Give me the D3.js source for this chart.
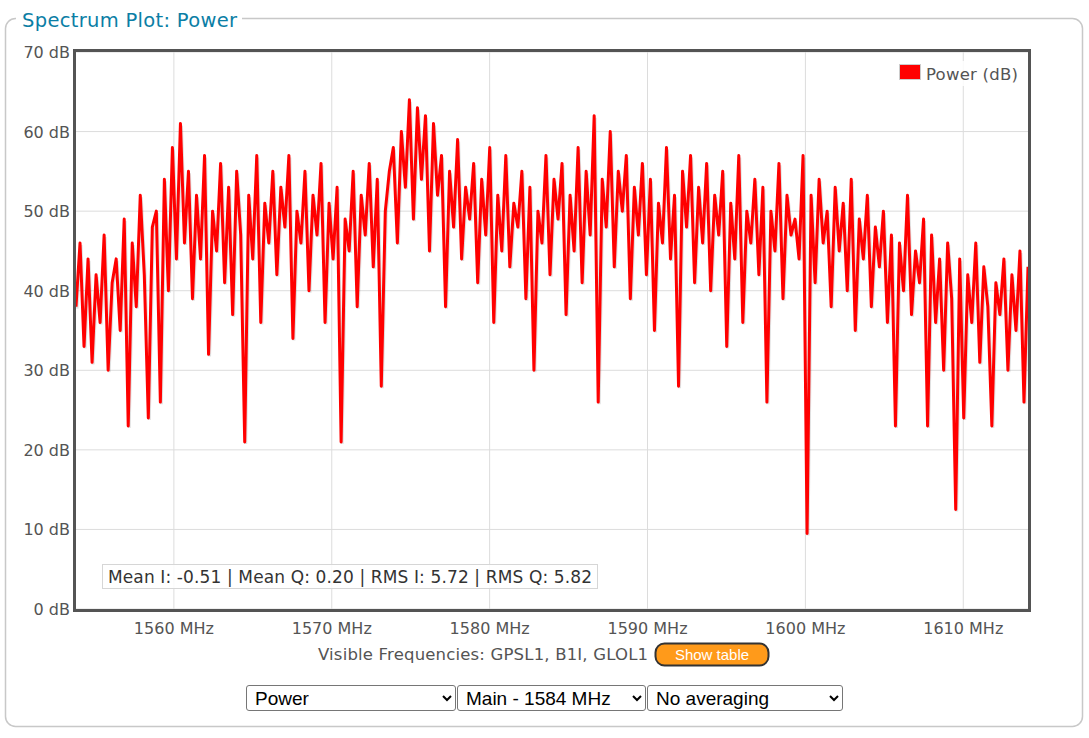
<!DOCTYPE html>
<html><head><meta charset="utf-8">
<script src="https://cdn.jsdelivr.net/npm/d3@7"></script>
<style>
body{margin:0;background:#fff;font-family:"DejaVu Sans",sans-serif;}
#wrap{position:relative;width:1089px;height:738px;}
select{position:absolute;top:685px;height:26px;font-family:"Liberation Sans",Arial,sans-serif;font-size:19px;border:1px solid #767676;border-radius:3px;background:#fff;color:#000;padding:0 4px;}
</style></head><body>
<div id="wrap">
<svg width="1089" height="738"></svg>
<select style="left:246px;width:210px"><option>Power</option></select>
<select style="left:457px;width:189px"><option>Main - 1584 MHz</option></select>
<select style="left:647px;width:196px"><option>No averaging</option></select>
</div>
<script>
const power = [
38,46,33,44,31,42,36,47,30,41,
44,35,49,23,46,38,52,42,24,48,
50,26,54,40,58,44,61,46,55,39,
52,44,57,32,50,45,56,41,53,37,
55,47,21,52,44,57,36,51,46,55,
42,53,48,57,34,50,46,55,40,52,
47,56,36,51,44,53,21,49,45,55,
38,52,47,56,43,54,28,50,55,58,
46,60,53,64,49,63,54,62,45,61,
52,57,38,55,48,59,44,53,49,56,
41,54,47,58,36,52,45,57,43,51,
48,55,39,53,30,50,46,57,42,54,
49,56,37,52,45,58,41,55,47,62,
26,54,48,60,43,55,50,57,39,53,
47,56,42,54,35,51,46,58,44,52,
28,55,48,57,41,53,46,56,40,52,
47,55,33,51,44,57,36,50,46,54,
42,53,26,50,45,56,39,52,47,49,
44,57,9.5,52,41,54,46,50,38,53,
45,51,40,54,35,49,44,52,38,48,
43,50,36,47,23,46,40,52,37,45,
41,49,23,47,36,44,30,46,39,12.5,
44,24,42,36,46,31,43,38,23,41,
37,44,30,42,35,45,26,43];
const freqStart = 1553.8, freqEnd = 1614.1;
const xTicks = [1560, 1570, 1580, 1590, 1600, 1610];
const yTicks = [0, 10, 20, 30, 40, 50, 60, 70];
const statsText = "Mean I: -0.51 | Mean Q: 0.20 | RMS I: 5.72 | RMS Q: 5.82";

const svg = d3.select("svg");
const plot = {left: 76, top: 52, right: 1028, bottom: 609};

// outer fieldset frame
svg.append("rect").attr("x", 5.5).attr("y", 18.5).attr("width", 1077).attr("height", 708)
  .attr("rx", 10).attr("fill", "none").attr("stroke", "#c8c8c8").attr("stroke-width", 1.5);
svg.append("rect").attr("x", 16).attr("y", 5).attr("width", 226).attr("height", 28).attr("fill", "#fff");
svg.append("text").attr("x", 22).attr("y", 27).attr("fill", "#0b7ea5")
  .style("font-size", "19.5px").attr("textLength", 215).text("Spectrum Plot: Power");

const x = d3.scaleLinear().domain([freqStart, freqEnd]).range([plot.left, plot.right]);
const y = d3.scaleLinear().domain([0, 70]).range([plot.bottom, plot.top]);
const idx = d3.scaleLinear().domain([0, power.length - 1]).range([freqStart, freqEnd]);

// grid
svg.append("g").selectAll("line").data(xTicks).join("line")
  .attr("x1", d => x(d)).attr("x2", d => x(d)).attr("y1", plot.top).attr("y2", plot.bottom)
  .attr("stroke", "#dcdcdc");
svg.append("g").selectAll("line").data(yTicks).join("line")
  .attr("x1", plot.left).attr("x2", plot.right).attr("y1", d => y(d)).attr("y2", d => y(d))
  .attr("stroke", "#dcdcdc");

// axis labels
svg.append("g").selectAll("text").data(yTicks).join("text")
  .attr("x", 70).attr("y", d => y(d) + 6).attr("text-anchor", "end")
  .attr("fill", "#545454").style("font-size", "16px").text(d => d + " dB");
svg.append("g").selectAll("text").data(xTicks).join("text")
  .attr("x", d => x(d)).attr("y", 634).attr("text-anchor", "middle")
  .attr("fill", "#545454").style("font-size", "16px").text(d => d + " MHz");

// line
const line = d3.line().x((d, i) => x(idx(i))).y(d => y(d));
svg.append("defs").append("clipPath").attr("id", "clip").append("rect")
  .attr("x", plot.left).attr("y", plot.top).attr("width", plot.right - plot.left).attr("height", plot.bottom - plot.top);
const g = svg.append("g").attr("clip-path", "url(#clip)");
g.append("path").datum(power).attr("d", line).attr("fill", "none")
  .attr("stroke", "rgba(0,0,0,0.12)").attr("stroke-width", 3).attr("transform", "translate(1,2)");
g.append("path").datum(power).attr("d", line).attr("fill", "none")
  .attr("stroke", "#ff0000").attr("stroke-width", 3).attr("stroke-linejoin", "round");

// plot border
svg.append("rect").attr("x", plot.left - 1.5).attr("y", plot.top - 1.5)
  .attr("width", plot.right - plot.left + 3).attr("height", plot.bottom - plot.top + 3)
  .attr("fill", "none").attr("stroke", "#545454").attr("stroke-width", 3);

// legend
svg.append("rect").attr("x", 896).attr("y", 61).attr("width", 124).attr("height", 25).attr("fill", "rgba(255,255,255,0.85)");
svg.append("rect").attr("x", 899.5).attr("y", 64.5).attr("width", 21).attr("height", 15)
  .attr("fill", "#ff0000").attr("stroke", "#ccc");
svg.append("text").attr("x", 926).attr("y", 80).attr("fill", "#545454").style("font-size", "16.5px").attr("textLength", 92).text("Power (dB)");

// stats box
svg.append("rect").attr("x", 102.5).attr("y", 564.5).attr("width", 495).attr("height", 24)
  .attr("fill", "rgba(255,255,255,0.85)").attr("stroke", "#d6d6d6");
svg.append("text").attr("x", 108).attr("y", 583).attr("fill", "#333").style("font-size", "17px").attr("textLength", 484).text(statsText);

// visible frequencies
svg.append("text").attr("x", 648).attr("y", 660).attr("text-anchor", "end").attr("fill", "#545454")
  .style("font-size", "16.5px").attr("textLength", 330).text("Visible Frequencies: GPSL1, B1I, GLOL1");
svg.append("rect").attr("x", 655.5).attr("y", 643.5).attr("width", 113).attr("height", 22).attr("rx", 9)
  .attr("fill", "#ff9a1a").attr("stroke", "#333").attr("stroke-width", 2);
svg.append("text").attr("x", 712).attr("y", 660).attr("text-anchor", "middle").attr("fill", "#fff")
  .style("font-family", "Liberation Sans, Arial, sans-serif").style("font-size", "15px").text("Show table");
</script>
</body></html>
